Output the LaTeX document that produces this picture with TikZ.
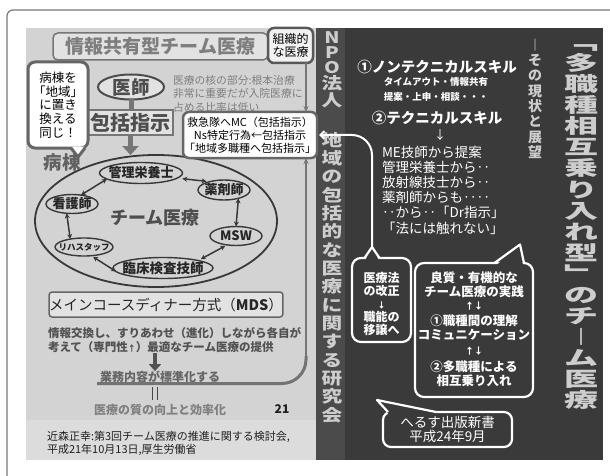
\documentclass[tikz,border=0pt]{standalone}
\usepackage{fontspec}
\usepackage{graphicx}
\setmainfont{Noto Sans CJK JP}
\usetikzlibrary{arrows.meta,shapes.geometric}
\definecolor{slidebg}{HTML}{D3D3D3}
\definecolor{citebg}{HTML}{DCDCDC}
\definecolor{darkbg}{HTML}{3A3A3A}
\definecolor{colbg}{HTML}{4B4B4B}
\definecolor{vtext}{HTML}{CDCDCD}
\definecolor{gline}{HTML}{767676}
\definecolor{gtext}{HTML}{7E7E7E}
\definecolor{dtext}{HTML}{4E4E4E}
\definecolor{edark}{HTML}{383838}
\definecolor{boxbg}{HTML}{E2E2E2}
\newcommand{\myfs}[2]{\fontsize{#1}{#2}\selectfont}
\newcommand{\myvstr}{\rule[-0.12em]{0pt}{1em}}
\newcommand{\myvcol}[3]{\scalebox{#1}[1]{\parbox{#2}{\centering #3}}}
\begin{document}
\begin{tikzpicture}[x=1pt,y=-1pt,
  every node/.style={inner sep=0pt,outer sep=0pt},
  teamell/.style={ellipse,draw=edark,line width=1.4pt,fill=slidebg},
  teamtxt/.style={text=black!85,font=\bfseries\myfs{13}{14}},
  dblarr/.style={{Stealth[length=5pt,width=5pt]}-{Stealth[length=5pt,width=5pt]},line width=1.5pt,draw=edark},
  vcoltxt/.style={text=vtext},
  callbody/.style={draw=white,line width=2.2pt,rounded corners=9pt,fill=darkbg},
  tailline/.style={draw=white,line width=2.2pt,line join=round},
  thinarr/.style={draw=gline,line width=1.2pt,-{Stealth[length=6pt,width=5pt]}},
  wtxt/.style={text=white}
]
\useasboundingbox (0,0) rectangle (610,476);
\fill[white] (0,0) rectangle (610,476);
\draw[gline,line width=1.2pt,rounded corners=6pt] (7,476) |- (610,10);
\fill[slidebg] (26,28) rectangle (316,420);
\fill[citebg] (26,420) rectangle (316,460);
\fill[darkbg] (316,28) rectangle (603,460);
\fill[colbg] (316,28) rectangle (345,460);

% ---------------- left panel ----------------
\node[draw=gline,line width=1.5pt,rounded corners=5pt,fill=boxbg,minimum width=215pt,minimum height=27pt,text=gtext,font=\bfseries\myfs{19}{20}] (title) at (160.5,46.5) {情報共有型チーム医療};

\node[ellipse,draw=black!70,line width=2pt,fill=boxbg,minimum width=66pt,minimum height=25pt] (ishi) at (131,87) {};
\node[text=dtext,font=\bfseries\myfs{18.5}{19}] (ishit) at (ishi) {医師};
\node[anchor=west,align=left,text=gtext,font=\myfs{10.8}{13.5}] (core) at (173,93.5) {\myvstr 医療の核の部分:根本治療\\非常に重要だが入院医療に\\占める比率は低い\myvstr};

\node[draw=gline,line width=1.5pt,fill=boxbg,minimum width=85pt,minimum height=25pt,text=dtext,font=\bfseries\myfs{20}{21}] (hokatsu) at (130.5,122.5) {包括指示};
\draw[gline,line width=5pt] (ishi.south) -- (ishi.south |- hokatsu.north);

\node[ellipse,draw=edark,line width=1.8pt,minimum width=242pt,minimum height=132pt] (big) at (156,221) {};
\draw[gline,line width=5pt,-{Triangle[width=16pt,length=9pt]}] (hokatsu.south) -- (hokatsu.south |- big.north);

\node[teamell,minimum width=83pt,minimum height=21pt] (kanri) at (141,173) {};
\node[teamtxt] (kanrit) at (kanri) {管理栄養士};
\node[teamell,minimum width=52pt,minimum height=20pt] (yaku) at (224,190) {};
\node[teamtxt] (yakut) at (yaku) {薬剤師};
\node[teamell,minimum width=52pt,minimum height=19pt] (kango) at (72,204) {};
\node[teamtxt] (kangot) at (kango) {看護師};
\node[teamell,minimum width=52pt,minimum height=19pt] (msw) at (236,236) {};
\node[teamtxt] (mswt) at (msw) {MSW};
\node[teamell,minimum width=58pt,minimum height=18pt] (riha) at (84,247) {};
\node[teamtxt,font=\bfseries\myfs{8.5}{9}] (rihat) at (riha) {リハスタッフ};
\node[teamell,minimum width=100pt,minimum height=21pt] (rinsho) at (163,268) {};
\node[teamtxt,font=\bfseries\myfs{13.5}{14}] (rinshot) at (rinsho) {臨床検査技師};
\node[text=dtext,font=\bfseries\myfs{18}{19}] (team) at (155,218) {チーム医療};

\draw[dblarr] (kango.45) -- (kanri.190);
\draw[dblarr,shorten <=5pt,shorten >=3pt] (kanri.-8) -- (yaku.150);
\draw[dblarr] (yaku.-30) -- (msw.north);
\draw[dblarr,shorten <=2pt,shorten >=3pt] (msw.-135) -- (rinsho.12);
\draw[dblarr,shorten <=2pt,shorten >=1pt] (riha.-50) -- (rinsho.185);
\draw[dblarr] (kango.-120) -- (riha.150);

\node[draw=black!60,line width=3pt,rounded corners=7pt,fill=white,minimum width=60pt,minimum height=86pt,align=center,font=\myfs{12.5}{13.7}] (bcall) at (58,105) {\myvstr 病棟を\\「地域」\\に置き\\換える\\同じ！\myvstr};
\fill[white] (71.5,146.5) -- (78,156) -- (84.5,146.5) -- cycle;
\draw[black!60,line width=3pt,line join=round] (71,148) -- (78,157) -- (85,148);
\node[text=black!62,font=\bfseries\myfs{18.5}{19}] (byoto) at (62,162) {病棟};

\node[draw=black!65,line width=2.5pt,rounded corners=6pt,fill=white!95!black,minimum width=45pt,minimum height=35pt,align=center,font=\myfs{12}{13}] (soshiki) at (290.5,45.5) {\myvstr 組織的\\な医療\myvstr};

\node[draw=black!60,line width=2.5pt,rounded corners=6pt,fill=white,minimum width=134pt,minimum height=46pt,align=center,font=\myfs{11}{13}] (kyukyu) at (250,135) {\myvstr 救急隊へMC（包括指示）\\Ns特定行為←包括指示\\「地域多職種へ包括指示」\myvstr};

\coordinate (vc) at (306,356);
\draw[thinarr] (soshiki.south -| vc) -- (kyukyu.north -| vc);
\draw[thinarr] (vc) -- (kyukyu.south -| vc);

\node[draw=black!60,line width=1.5pt,rounded corners=3pt,fill=boxbg,minimum width=232pt,minimum height=25pt,text=black!85,font=\myfs{14.5}{15}] (mds) at (166,304.5) {メインコースディナー方式（\textbf{MDS}）};

\node[anchor=west,align=left,text=black!68,font=\bfseries\myfs{11.5}{14}] (info) at (48,340) {\myvstr 情報交換し、すりあわせ（進化）しながら各自が\\考えて（専門性{\myfs{8}{14}↑}）最適なチーム医療の提供\myvstr};
\node[text=black!60,font=\bfseries\myfs{12}{13}] (gyomu) at (160,377) {業務内容が標準化する};
\coordinate (ax) at (155,0);
\draw[black!68,line width=4pt,-{Triangle[width=12pt,length=7pt]}] (info.south -| ax) -- (gyomu.north -| ax);

\coordinate (hl) at (97,383.5);
\draw[black!55,line width=3pt,rounded corners=24pt] (hl) -| (vc);

\draw[black!72,line width=1.8pt] (152.5,387) -- (152.5,400);
\draw[black!72,line width=1.8pt] (157.5,387) -- (157.5,400);
\node[text=black!50,font=\bfseries\myfs{12}{13}] (quality) at (160,410) {医療の質の向上と効率化};
\node[text=black!88,font=\bfseries\myfs{12}{13}] (pnum) at (282,409.5) {21};

\node[anchor=west,align=left,text=black!88,font=\myfs{11}{13}] (cite) at (47,443.5) {\myvstr 近森正幸:第3回チーム医療の推進に関する検討会,\\平成21年10月13日,厚生労働省\myvstr};

% ---------------- dark panel ----------------
\node[vcoltxt,font=\bfseries\myfs{16}{13}] (npo) at (332,52.5) {\myvcol{1.25}{1.2em}{\myvstr N\\P\\O\myvstr}};
\node[vcoltxt,font=\bfseries\myfs{16.5}{17}] (houjin) at (332,92) {\myvcol{1.25}{1.2em}{\myvstr 法\\人\myvstr}};
\node[vcoltxt,font=\bfseries\myfs{16.5}{18.33}] (kenkyu) at (332,277.5) {\myvcol{1.25}{1.2em}{\myvstr 地\\域\\の\\包\\括\\的\\な\\医\\療\\に\\関\\す\\る\\研\\究\\会\myvstr}};

\node[vcoltxt,font=\bfseries\myfs{14}{15.3}] (subt) at (535,98.5) {\myvcol{1}{1.2em}{\myvstr ︱\\そ\\の\\現\\状\\と\\展\\望\myvstr}};
\node[vcoltxt,font=\bfseries\myfs{20}{21.06}] (maint) at (581,221) {\myvcol{1.7}{1.2em}{\myvstr ﹁\\多\\職\\種\\相\\互\\乗\\り\\入\\れ\\型\\﹂\\の\\チ\\︱\\ム\\医\\療\myvstr}};

\node[wtxt,font=\bfseries\myfs{14.5}{15}] (n1) at (437,67) {①ノンテクニカルスキル};
\node[wtxt,font=\bfseries\myfs{9.5}{10}] (n1a) at (436,82) {タイムアウト・情報共有};
\node[wtxt,font=\bfseries\myfs{9.5}{10}] (n1b) at (436,97) {提案・上申・相談・・・};
\node[wtxt,font=\bfseries\myfs{14.5}{15}] (n2) at (437,118) {②テクニカルスキル};
\node[wtxt,font=\myfs{12}{13}] (darr) at (440,135) {↓};
\node[wtxt,anchor=west,align=left,font=\myfs{13.5}{15.2}] (list) at (382,190) {\myvstr ME技師から提案\\管理栄養士から‥\\放射線技士から‥\\薬剤師からも‥‥\\‥から‥「Dr指示」\\「法には触れない」\myvstr};

% callout 1
\node[callbody,minimum width=59pt,minimum height=84pt] (c1) at (381.5,300) {};
\fill[darkbg] (365,260.5) -- (372,247) -- (379,260.5) -- cycle;
\draw[tailline] (364.5,258) -- (372,247) -- (379.5,258);
\coordinate (c1tip) at (372,247);
\draw[white,line width=2pt,rounded corners=20pt,shorten >=2pt,-{Straight Barb[length=4pt,width=8pt]}] (c1tip) |- (kyukyu.east);
\node[wtxt,align=center,font=\bfseries\myfs{12}{13}] (c1t) at (381.5,304) {\myvstr 医療法\\の改正\\{\myfs{8}{13}↓}\\職能の\\移譲へ\myvstr};

% callout 2
\node[callbody,minimum width=118pt,minimum height=134pt] (c2) at (474,330) {};
\fill[darkbg] (496,265.5) -- (520,245) -- (523,265.5) -- cycle;
\draw[tailline] (494.5,263) -- (520,244.5) -- (524,263);
\node[wtxt,align=center,font=\bfseries\myfs{12.5}{13.5}] (c2t) at (474,329.25) {\myvstr 良質・有機的な\\チーム医療の実践\\{\myfs{9}{13.5}↑↓}\\[2.5pt]①職種間の理解\\コミュニケーション\\[2pt]{\myfs{9}{13.5}↑↓}\\[3.5pt]②多職種による\\相互乗り入れ\myvstr};

% callout 3
\node[callbody,rounded corners=8pt,minimum width=129pt,minimum height=35pt] (c3) at (447.5,429.5) {};
\fill[darkbg] (389,414.5) -- (377,400) -- (436,411) -- (436,414.5) -- cycle;
\draw[tailline] (388,412) -- (377,400) -- (436,412);
\node[wtxt,align=center,font=\myfs{13.5}{14}] (c3t) at (c3) {\myvstr へるす出版新書\\平成24年9月\myvstr};
\end{tikzpicture}
\end{document}
